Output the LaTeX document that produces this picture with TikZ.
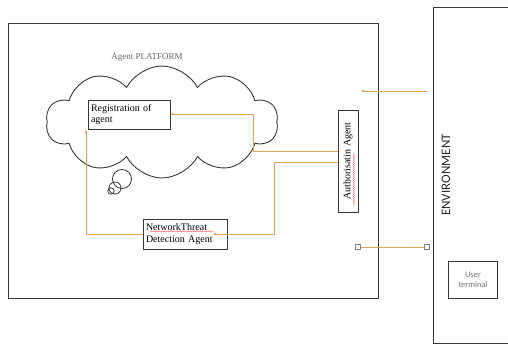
\documentclass[tikz,border=0pt]{standalone}
\usepackage{fontspec}
\setmainfont{Liberation Serif}
\newfontfamily\carl{Carlito}
\usetikzlibrary{shapes.symbols,arrows.meta,decorations.pathmorphing}
\definecolor{ora}{RGB}{226,162,90}
\definecolor{frame}{RGB}{55,55,55}
\begin{document}
\begin{tikzpicture}[x=1pt,y=-1pt,
  box/.style={draw=frame,line width=0.9pt,inner sep=2pt,align=left,font=\fontsize{10}{11.5}\selectfont},
  conn/.style={draw=ora,line width=1pt},
  tip/.style={-{Stealth[length=3.5pt,width=3pt]}},
  sq/.style={draw=gray,fill=white,line width=0.6pt,minimum size=5pt,inner sep=0pt},
  squig/.style={draw=red!65,line width=0.45pt,decorate,decoration={snake,amplitude=0.5pt,segment length=2pt}}]
\useasboundingbox (0,0) rectangle (508,349);
% platform frame
\node[draw=frame,line width=1.1pt,minimum width=370pt,minimum height=275pt,anchor=north west,inner sep=0pt] (plat) at (8,23) {};
% environment frame (open to the right)
\node[draw=frame,line width=1.1pt,minimum width=100pt,minimum height=336pt,anchor=north west,inner sep=0pt] (env) at (433,7) {};
\node[rotate=90,font=\carl\fontsize{13}{15}\selectfont,text=black!85] (envt) at (446,175) {ENVIRONMENT};
\node[draw=frame,line width=0.9pt,minimum width=49pt,minimum height=37pt,align=center,inner sep=1pt,font=\carl\fontsize{8.5}{10.5}\selectfont,text=gray!90!black] (ut) at (473,280) {User\\terminal};
% cloud
\node[cloud,draw=frame,line width=0.9pt,cloud puffs=10,cloud puff arc=125,cloud ignores aspect,minimum width=232pt,minimum height=112pt,inner sep=0pt] (cloud) at (162,122) {};
\node[font=\fontsize{9}{10}\selectfont,text=gray!80!black] (apt) at (147,57) {Agent PLATFORM};
\draw[frame,line width=0.8pt] (122,179) circle (9.5);
\draw[frame,line width=0.8pt] (115,188) circle (6);
\draw[frame,line width=0.8pt] (111,191) circle (3.2);
% boxes
\node[box,fill=white,minimum width=82pt,minimum height=29pt,text width=76pt] (reg) at (129,114.5) {Registration of\\agent};
\node[box,fill=white,rotate=90,minimum width=102pt,minimum height=20pt] (auth) at (348,161) {Authorisatin Agent};
\node[box,fill=white,minimum width=84pt,minimum height=30pt,text width=78pt] (ntd) at (185,234) {NetworkThreat\\Detection Agent};
% connectors
\coordinate (b1) at (253,151);
\coordinate (b2) at (253,114);
\draw[conn,tip] (auth.north |- b1) -- (b1) -- (b2) -- (reg.east |- b2);
\coordinate (c1) at (274,162);
\coordinate (c2) at (274,234);
\coordinate (c3) at (213,234);
\draw[conn,tip] (auth.north |- c1) -- (c1) -- (c2) -- (c3);
\coordinate (d1) at (86,234);
\coordinate (d2) at (86,130);
\draw[conn,tip] (ntd.west) -- (d1) -- (d2);
\coordinate (e1) at (427,91);
\coordinate (e2) at (362,91);
\draw[conn,-{Circle[length=2.5pt]}] (e1) -- (e2);
\node[sq] (s1) at (358,247) {};
\node[sq] (s2) at (427,247) {};
\draw[conn] (s1) -- (s2);
% spell-check underlines
\draw[squig] (354,205) -- (354,153);
\draw[squig] (150,231.5) -- (213,231.5);
\end{tikzpicture}
\end{document}
